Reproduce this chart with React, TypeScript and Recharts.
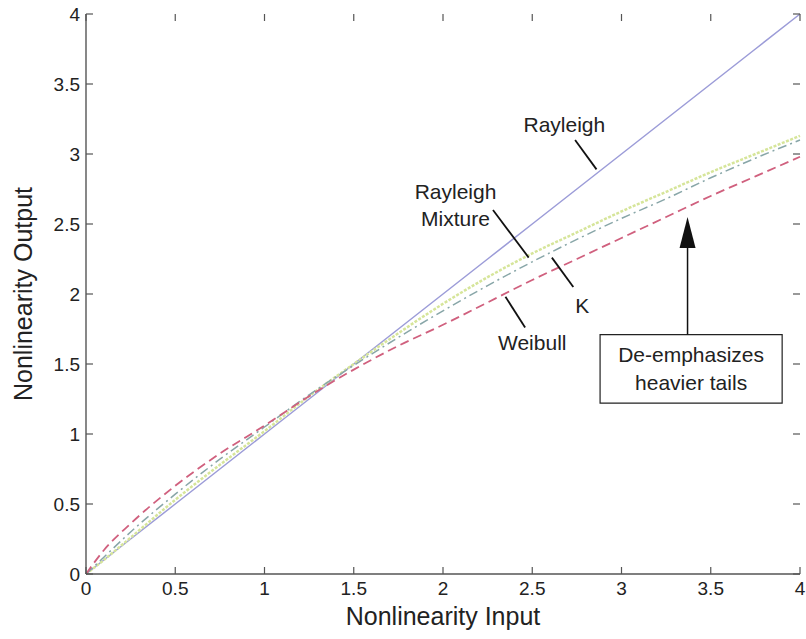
import React from "react";
import { LineChart, Line, XAxis, YAxis, ReferenceLine, ReferenceDot, ReferenceArea } from "recharts";

// values
const inputs = [0, 0.1, 0.25, 0.5, 0.75, 1, 1.25, 1.5, 1.75, 2, 2.25, 2.5, 2.75, 3, 3.25, 3.5, 3.75, 4];
const rayleigh = [0, 0.1, 0.25, 0.5, 0.75, 1, 1.25, 1.5, 1.75, 2, 2.25, 2.5, 2.75, 3, 3.25, 3.5, 3.75, 4];
const mixture = [0, 0.1, 0.26, 0.53, 0.78, 1.02, 1.27, 1.5, 1.72, 1.93, 2.12, 2.29, 2.44, 2.59, 2.73, 2.87, 3.0, 3.13];
const kDist = [0, 0.12, 0.3, 0.57, 0.82, 1.05, 1.28, 1.49, 1.69, 1.88, 2.06, 2.23, 2.39, 2.54, 2.68, 2.83, 2.97, 3.1];
const weibull = [0, 0.17, 0.36, 0.63, 0.86, 1.06, 1.27, 1.46, 1.63, 1.78, 1.94, 2.1, 2.25, 2.4, 2.55, 2.7, 2.84, 2.98];

const xTicks = [0, 0.5, 1, 1.5, 2, 2.5, 3, 3.5, 4];
const yTicks = [0, 0.5, 1, 1.5, 2, 2.5, 3, 3.5, 4];

// annotation text and leader lines, in data units
const labels = [
  { text: "Rayleigh", x: 2.68, y: 3.21 },
  { text: "Rayleigh", x: 2.07, y: 2.73 },
  { text: "Mixture", x: 2.07, y: 2.54 },
  { text: "K", x: 2.78, y: 1.92 },
  { text: "Weibull", x: 2.5, y: 1.65 },
];
const leaders = [
  [2.74, 3.1, 2.86, 2.89],
  [2.28, 2.6, 2.48, 2.26],
  [2.61, 2.26, 2.73, 2.05],
  [2.35, 1.98, 2.46, 1.76],
];

const data = inputs.map((x, i) => ({
  x,
  rayleigh: rayleigh[i],
  mixture: mixture[i],
  k: kDist[i],
  weibull: weibull[i],
}));

const W = 806;
const H = 639;
const margin = { top: 14, right: 6, bottom: 10, left: 0 };
const xAxisH = 55;
const yAxisW = 86;
const plotW = W - margin.left - margin.right - yAxisW;
const plotH = H - margin.top - margin.bottom - xAxisH;
const xGap = 8;
const yGap = 6;
const tickLen = 7;

const font = "'Liberation Sans', Arial, Helvetica, sans-serif";
const axisColor = "#555";

// label plus inward tick marks at both bottom and top
const XTick = (props: any) => {
  const { x, y, payload } = props;
  const base = y - xGap;
  const top = base - plotH;
  return (
    <g>
      <line x1={x} y1={base} x2={x} y2={base - tickLen} stroke={axisColor} strokeWidth={1.2} />
      <line x1={x} y1={top} x2={x} y2={top + tickLen} stroke={axisColor} strokeWidth={1.2} />
      <text x={x} y={y} dy="0.71em" textAnchor="middle" fontSize={19} fill="#222" fontFamily={font}>
        {payload.value}
      </text>
    </g>
  );
};

// label plus inward tick marks at both left and right
const YTick = (props: any) => {
  const { x, y, payload } = props;
  const left = x + yGap;
  const right = left + plotW;
  return (
    <g>
      <line x1={left} y1={y} x2={left + tickLen} y2={y} stroke={axisColor} strokeWidth={1.2} />
      <line x1={right} y1={y} x2={right - tickLen} y2={y} stroke={axisColor} strokeWidth={1.2} />
      <text x={x} y={y} dy="0.36em" textAnchor="end" fontSize={19} fill="#222" fontFamily={font}>
        {payload.value}
      </text>
    </g>
  );
};

const ArrowHead = (props: any) => {
  const { cx, cy } = props;
  return <polygon points={`${cx},${cy} ${cx - 8},${cy + 31} ${cx + 8},${cy + 31}`} fill="#111" />;
};

const YLabel = (props: any) => {
  const { viewBox } = props;
  const cy = viewBox.y + viewBox.height / 2;
  return (
    <text
      x={23}
      y={cy}
      transform={`rotate(-90, 23, ${cy})`}
      textAnchor="middle"
      dominantBaseline="central"
      fontSize={25}
      fill="#222"
      fontFamily={font}
    >
      Nonlinearity Output
    </text>
  );
};

export default function App() {
  return (
    <div style={{ position: "absolute", left: 0, top: 0, background: "#fff" }}>
      <LineChart width={W} height={H} data={data} margin={margin}>
        <XAxis
          xAxisId="b"
          dataKey="x"
          type="number"
          domain={[0, 4]}
          ticks={xTicks}
          interval={0}
          height={xAxisH}
          tickLine={false}
          tickSize={0}
          tickMargin={xGap}
          stroke={axisColor}
          strokeWidth={1.4}
          tick={<XTick />}
          label={{ value: "Nonlinearity Input", position: "insideBottom", offset: 4, fontSize: 25, fill: "#222", fontFamily: font }}
        />
        <XAxis xAxisId="t" orientation="top" dataKey="x" type="number" domain={[0, 4]}
          height={0} mirror tick={false} tickLine={false} stroke={axisColor} strokeWidth={1.4} />
        <YAxis
          yAxisId="l"
          type="number"
          domain={[0, 4]}
          ticks={yTicks}
          interval={0}
          width={yAxisW}
          tickLine={false}
          tickSize={0}
          tickMargin={yGap}
          stroke={axisColor}
          strokeWidth={1.4}
          tick={<YTick />}
          label={<YLabel />}
        />
        <YAxis yAxisId="r" orientation="right" type="number" domain={[0, 4]}
          width={0} mirror tick={false} tickLine={false} stroke={axisColor} strokeWidth={1.4} />

        <Line xAxisId="b" yAxisId="l" dataKey="rayleigh" stroke="#9c9cd8" strokeWidth={1.5} dot={false} type="linear" isAnimationActive={false} />
        <Line xAxisId="b" yAxisId="l" dataKey="mixture" stroke="#d6e59a" strokeWidth={2.5} strokeDasharray="3 1.5" dot={false} type="monotone" isAnimationActive={false} />
        <Line xAxisId="b" yAxisId="l" dataKey="k" stroke="#88a6a8" strokeWidth={1.5} strokeDasharray="9 4 2 4" dot={false} type="monotone" isAnimationActive={false} />
        <Line xAxisId="b" yAxisId="l" dataKey="weibull" stroke="#d0607e" strokeWidth={1.8} strokeDasharray="9 5" dot={false} type="monotone" isAnimationActive={false} />

        {leaders.map((s, i) => (
          <ReferenceLine
            key={i}
            xAxisId="b"
            yAxisId="l"
            segment={[{ x: s[0], y: s[1] }, { x: s[2], y: s[3] }]}
            stroke="#111"
            strokeWidth={1.8}
          />
        ))}
        {labels.map((l, i) => (
          <ReferenceDot
            key={i}
            xAxisId="b"
            yAxisId="l"
            x={l.x}
            y={l.y}
            r={0}
            stroke="none"
            label={{ value: l.text, position: "center", fontSize: 21, fill: "#222", fontFamily: font }}
          />
        ))}
        <ReferenceLine xAxisId="b" yAxisId="l" segment={[{ x: 3.37, y: 1.71 }, { x: 3.37, y: 2.36 }]} stroke="#111" strokeWidth={1.5} />
        <ReferenceDot xAxisId="b" yAxisId="l" x={3.37} y={2.55} r={0} shape={<ArrowHead />} />
        <ReferenceArea
          xAxisId="b"
          yAxisId="l"
          x1={2.88}
          x2={3.9}
          y1={1.22}
          y2={1.71}
          fill="#fff"
          fillOpacity={1}
          stroke="#222"
          strokeWidth={1.2}
        />
        <ReferenceDot xAxisId="b" yAxisId="l" x={3.39} y={1.57} r={0} stroke="none"
          label={{ value: "De-emphasizes", position: "center", fontSize: 21, fill: "#222", fontFamily: font }} />
        <ReferenceDot xAxisId="b" yAxisId="l" x={3.39} y={1.37} r={0} stroke="none"
          label={{ value: "heavier tails", position: "center", fontSize: 21, fill: "#222", fontFamily: font }} />
      </LineChart>
    </div>
  );
}
